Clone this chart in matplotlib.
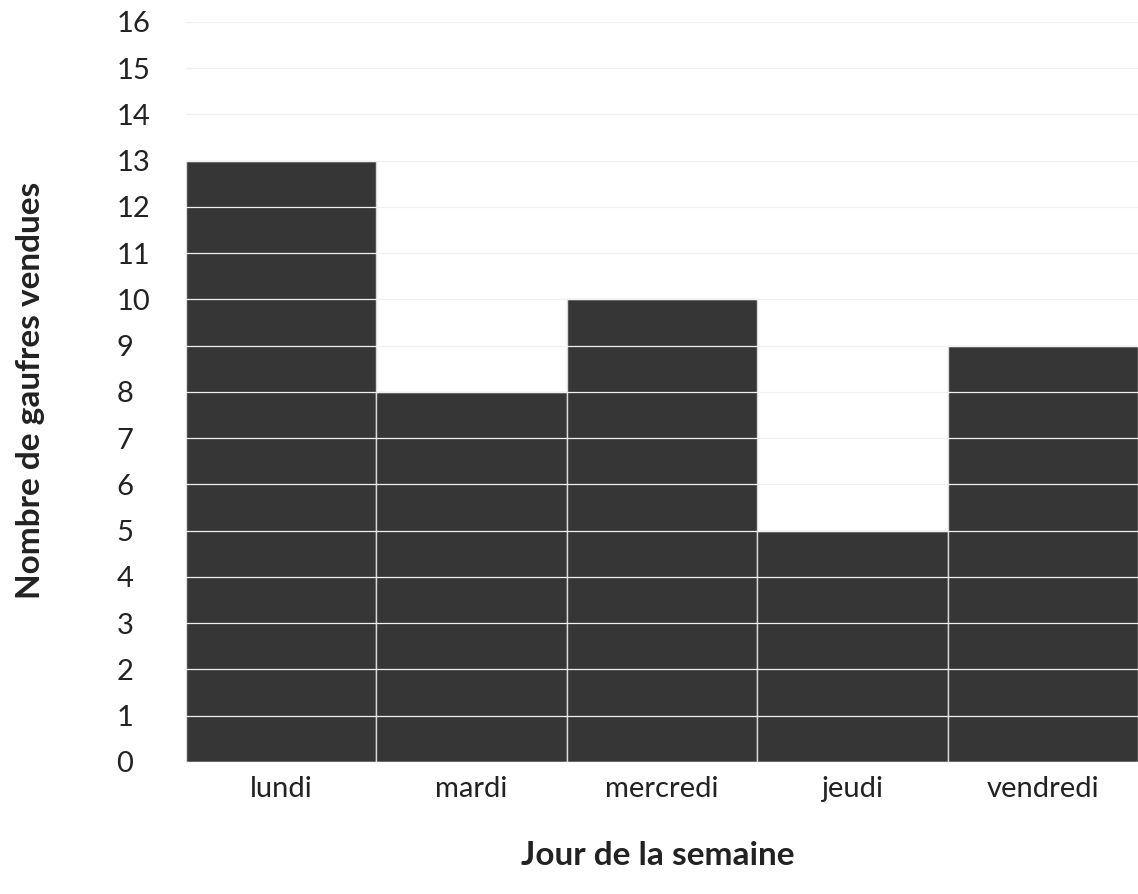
import matplotlib
matplotlib.use('Agg')
import matplotlib.pyplot as plt

# donnees
jours = ['lundi', 'mardi', 'mercredi', 'jeudi', 'vendredi']
gaufres = [13, 8, 10, 5, 9]
graduations = list(range(0, 17))

plt.rcParams['font.family'] = ['Lato', 'DejaVu Sans']

fig = plt.figure(figsize=(11.38, 8.94), dpi=100)
ax = fig.add_axes([0.1634, 0.1477, 0.8366, 0.8277])

ax.bar(range(len(jours)), gaufres, width=1.0, color='#363636',
	edgecolor='#d8d8d8', linewidth=1.0, zorder=2)

ax.set_xlim(-0.5, len(jours) - 0.5)
ax.set_ylim(0, 16)
ax.set_yticks(graduations)
ax.set_xticks(range(len(jours)))
ax.set_xticklabels(jours)

# lignes de grille visibles sur les barres
ax.grid(axis='y', color='#f0f0f0', linewidth=0.9, zorder=3)
ax.set_axisbelow(False)

for s in ax.spines.values():
	s.set_visible(False)

ax.tick_params(axis='both', length=0, labelsize=21, colors='#222222')
ax.tick_params(axis='y', pad=50)
for lab in ax.get_yticklabels():
	lab.set_horizontalalignment('left')
ax.tick_params(axis='x', pad=10)

fig.text(0.578, 0.043, 'Jour de la semaine', ha='center', va='center',
	fontsize=24, fontweight='bold', color='#222222')
fig.text(0.027, 0.563, 'Nombre de gaufres vendues', ha='center', va='center',
	rotation=90, fontsize=24, fontweight='bold', color='#222222')

fig.savefig('out.png', dpi=100)
